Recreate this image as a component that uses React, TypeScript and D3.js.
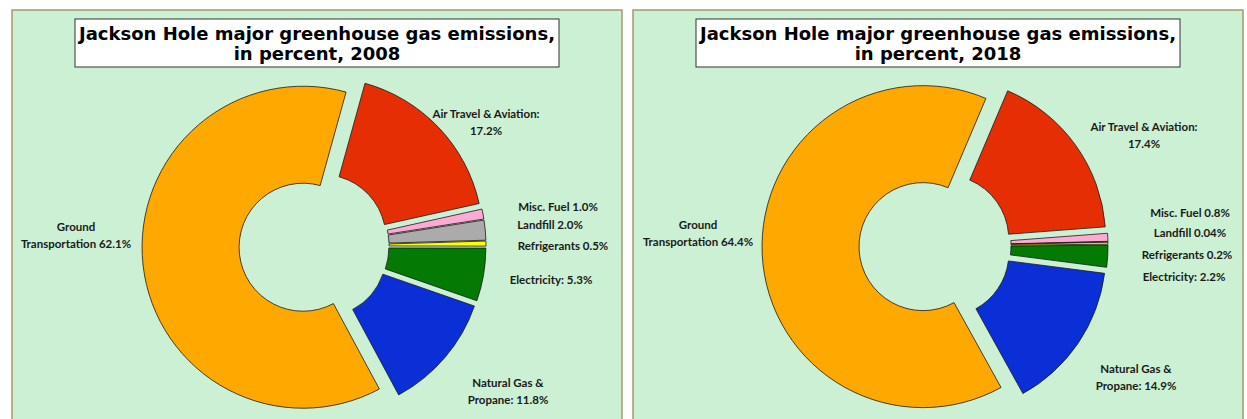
import React from 'react';
import * as d3 from 'd3';

// ---- Data ----
const categories = [
  'Air Travel & Aviation',
  'Misc. Fuel',
  'Landfill',
  'Refrigerants',
  'Electricity',
  'Natural Gas & Propane',
  'Ground Transportation',
];
const values2008 = [17.2, 1.0, 2.0, 0.5, 5.3, 11.8, 62.1];
const values2018 = [17.4, 0.8, 0.04, 0.2, 2.2, 14.9, 64.4];
const labels2008 = [
  ['Air Travel & Aviation:', '17.2%'],
  ['Misc. Fuel 1.0%'],
  ['Landfill 2.0%'],
  ['Refrigerants 0.5%'],
  ['Electricity: 5.3%'],
  ['Natural Gas &', 'Propane: 11.8%'],
  ['Ground', 'Transportation 62.1%'],
];
const labels2018 = [
  ['Air Travel & Aviation:', '17.4%'],
  ['Misc. Fuel 0.8%'],
  ['Landfill 0.04%'],
  ['Refrigerants 0.2%'],
  ['Electricity: 2.2%'],
  ['Natural Gas &', 'Propane: 14.9%'],
  ['Ground', 'Transportation 64.4%'],
];
const titles = [
  ['Jackson Hole major greenhouse gas emissions,', 'in percent, 2008'],
  ['Jackson Hole major greenhouse gas emissions,', 'in percent, 2018'],
];

// ---- Styles / layout ----
const sliceColors = ['#E62E04', '#FFAAD4', '#ABABAB', '#FFFF00', '#037A03', '#0B2FD6', '#FFA800'];
const BG = '#CCF0D4';
const BORDER = '#A39A6E';
const labelFont = 'Lato, "Open Sans", sans-serif';
const titleFont = '"DejaVu Sans", Verdana, sans-serif';

type LabelPos = { x: number; y: number }; // center x, first baseline y (absolute)

const layouts = [
  {
    panelX: 12,
    cx: 314,
    cy: 246,
    startDeg: 15.5,
    explode: 11,
    labelPos: [
      { x: 486, y: 118 },
      { x: 558, y: 211 },
      { x: 550, y: 229 },
      { x: 563, y: 250 },
      { x: 551, y: 284 },
      { x: 508, y: 387 },
      { x: 76, y: 231 },
    ] as LabelPos[],
  },
  {
    panelX: 633,
    cx: 935,
    cy: 246,
    startDeg: 23,
    explode: 12,
    labelPos: [
      { x: 1144, y: 131 },
      { x: 1190, y: 217 },
      { x: 1190, y: 237 },
      { x: 1187, y: 259 },
      { x: 1184, y: 281 },
      { x: 1136, y: 373 },
      { x: 698, y: 229 },
    ] as LabelPos[],
  },
];

const R_OUT = 161;
const R_IN = 64;

function Panel({ values, labels, title, layout }: any) {
  const start = (layout.startDeg * Math.PI) / 180;
  const pie = d3
    .pie<number>()
    .sort(null)
    .value((d) => d)
    .startAngle(start)
    .endAngle(start + 2 * Math.PI);
  const arcs = pie(values);
  const arc = d3.arc<d3.PieArcDatum<number>>().innerRadius(R_IN).outerRadius(R_OUT);
  const px = layout.panelX;
  const boxX = px + 63;
  const boxW = 484;
  return (
    <g>
      <rect x={px} y={10} width={610} height={430} fill={BG} stroke={BORDER} strokeWidth={1.5} />
      <rect x={boxX} y={19} width={boxW} height={48} fill="#FFFFFF" stroke="#333" strokeWidth={1} />
      <text
        x={boxX + boxW / 2}
        y={39.5}
        textAnchor="middle"
        fontFamily={titleFont}
        fontWeight="bold"
        fontSize={18}
        fill="#000"
      >
        {title[0]}
      </text>
      <text
        x={boxX + boxW / 2}
        y={60}
        textAnchor="middle"
        fontFamily={titleFont}
        fontWeight="bold"
        fontSize={18}
        fill="#000"
      >
        {title[1]}
      </text>
      <g transform={`translate(${layout.cx},${layout.cy})`}>
        {arcs.map((a, i) => {
          const mid = (a.startAngle + a.endAngle) / 2;
          const dx = Math.sin(mid) * layout.explode;
          const dy = -Math.cos(mid) * layout.explode;
          return (
            <path
              key={categories[i]}
              d={arc(a) || ''}
              transform={`translate(${dx},${dy})`}
              fill={sliceColors[i]}
              stroke="#1a1a1a"
              strokeWidth={0.8}
            />
          );
        })}
      </g>
      {labels.map((lines: string[], i: number) => (
        <text
          key={'l' + i}
          textAnchor="middle"
          fontFamily={labelFont}
          fontWeight="bold"
          fontSize={11.5}
          fill="#1a1a1a"
        >
          {lines.map((ln, j) => (
            <tspan key={j} x={layout.labelPos[i].x} y={layout.labelPos[i].y + j * 17}>
              {ln}
            </tspan>
          ))}
        </text>
      ))}
    </g>
  );
}

export default function App() {
  return (
    <svg
      width={1247}
      height={419}
      style={{ position: 'absolute', left: 0, top: 0, background: '#FFFFFF' }}
    >
      <Panel values={values2008} labels={labels2008} title={titles[0]} layout={layouts[0]} />
      <Panel values={values2018} labels={labels2018} title={titles[1]} layout={layouts[1]} />
    </svg>
  );
}
